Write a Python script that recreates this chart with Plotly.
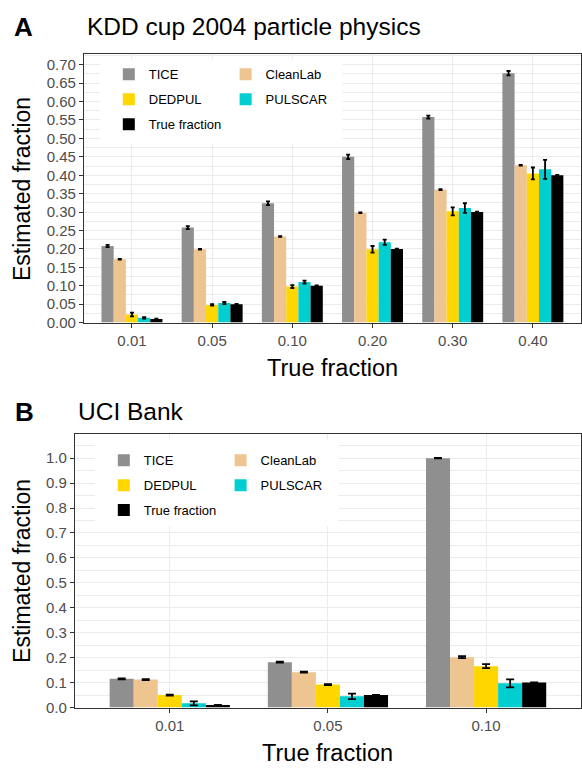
import plotly.graph_objects as go

W, H = 582, 768

# ---- Panel A: KDD cup 2004 particle physics ----
fractions_a = ["0.01", "0.05", "0.10", "0.20", "0.30", "0.40"]
tice_a = [0.208, 0.258, 0.324, 0.450, 0.558, 0.677]
tice_a_err = [0.003, 0.004, 0.005, 0.006, 0.004, 0.006]
cleanlab_a = [0.172, 0.199, 0.234, 0.298, 0.361, 0.427]
cleanlab_a_err = [0.001, 0.001, 0.001, 0.001, 0.001, 0.001]
dedpul_a = [0.022, 0.048, 0.098, 0.199, 0.302, 0.405]
dedpul_a_err = [0.005, 0.002, 0.004, 0.009, 0.011, 0.016]
pulscar_a = [0.013, 0.053, 0.110, 0.218, 0.311, 0.416]
pulscar_a_err = [0.002, 0.003, 0.004, 0.007, 0.013, 0.026]
true_a = [0.01, 0.05, 0.10, 0.20, 0.30, 0.40]
true_a_err = [0.001, 0.001, 0.001, 0.001, 0.001, 0.001]

# ---- Panel B: UCI Bank ----
fractions_b = ["0.01", "0.05", "0.10"]
tice_b = [0.115, 0.182, 1.000]
tice_b_err = [0.002, 0.002, 0.001]
cleanlab_b = [0.112, 0.142, 0.202]
cleanlab_b_err = [0.002, 0.002, 0.004]
dedpul_b = [0.050, 0.092, 0.166]
dedpul_b_err = [0.002, 0.002, 0.008]
pulscar_b = [0.017, 0.045, 0.097]
pulscar_b_err = [0.008, 0.011, 0.016]
true_b = [0.010, 0.050, 0.100]
true_b_err = [0.001, 0.001, 0.001]

methods = ["TICE", "CleanLab", "DEDPUL", "PULSCAR", "True fraction"]
colors = {
    "TICE": "#8F8F8F",
    "CleanLab": "#EEC591",
    "DEDPUL": "#FFD700",
    "PULSCAR": "#00CED1",
    "True fraction": "#000000",
}
# left legend column / right legend column
column = {"TICE": 0, "DEDPUL": 0, "True fraction": 0, "CleanLab": 1, "PULSCAR": 1}

FONT = "Liberation Sans"
GRID = "#EBEBEB"
FRAME = "#333333"
TICKTXT = "#4D4D4D"


def px_x(p):
    return p / W


def px_y(p):
    return 1 - p / H


panels = [
    dict(cats=fractions_a, xa="x", ya="y", legends=("legend", "legend2"), capw=2,
         data={"TICE": (tice_a, tice_a_err), "CleanLab": (cleanlab_a, cleanlab_a_err),
               "DEDPUL": (dedpul_a, dedpul_a_err), "PULSCAR": (pulscar_a, pulscar_a_err),
               "True fraction": (true_a, true_a_err)}),
    dict(cats=fractions_b, xa="x2", ya="y2", legends=("legend3", "legend4"), capw=4,
         data={"TICE": (tice_b, tice_b_err), "CleanLab": (cleanlab_b, cleanlab_b_err),
               "DEDPUL": (dedpul_b, dedpul_b_err), "PULSCAR": (pulscar_b, pulscar_b_err),
               "True fraction": (true_b, true_b_err)}),
]

fig = go.Figure()
for pi, p in enumerate(panels):
    for m in methods:
        vals, errs = p["data"][m]
        fig.add_trace(go.Bar(
            x=p["cats"], y=vals, name=m,
            xaxis=p["xa"], yaxis=p["ya"],
            marker=dict(color=colors[m], line=dict(width=0)),
            error_y=dict(type="data", array=errs, visible=True,
                         color="black", thickness=1.8, width=p["capw"]),
            legend=p["legends"][column[m]],
            legendgroup=f"{pi}-{m}",
        ))

axis_common = dict(
    showline=True, linecolor=FRAME, linewidth=1, mirror=True,
    ticks="outside", ticklen=4, tickcolor=FRAME, tickwidth=1,
    tickfont=dict(family=FONT, size=15, color=TICKTXT),
    showgrid=True, gridcolor=GRID, gridwidth=1.2, zeroline=False,
)

fig.update_layout(
    width=W, height=H,
    margin=dict(l=0, r=0, t=0, b=0),
    paper_bgcolor="white", plot_bgcolor="white",
    barmode="group", bargap=0.24, bargroupgap=0,
    font=dict(family=FONT, color="black"),
    xaxis=dict(domain=[px_x(84), 1], anchor="y", type="category",
               range=[-0.6, len(fractions_a) - 0.4], **axis_common),
    yaxis=dict(domain=[px_y(326), px_y(55)], anchor="x", range=[0, 0.728],
               dtick=0.05, tickformat=".2f",
               minor=dict(dtick=0.025, showgrid=True, gridcolor=GRID, gridwidth=0.8),
               **axis_common),
    xaxis2=dict(domain=[px_x(75), 1], anchor="y2", type="category",
                range=[-0.6, len(fractions_b) - 0.4], **axis_common),
    yaxis2=dict(domain=[px_y(715), px_y(439)], anchor="x2", range=[0, 1.095],
                dtick=0.1, tickformat=".1f",
                minor=dict(dtick=0.05, showgrid=True, gridcolor=GRID, gridwidth=0.8),
                **axis_common),
)

legend_common = dict(
    orientation="v", bgcolor="rgba(0,0,0,0)", borderwidth=0,
    font=dict(family=FONT, size=13, color="black"),
    xanchor="left", yanchor="top", tracegroupgap=5,
    itemclick=False, itemdoubleclick=False,
)
fig.update_layout(
    legend=dict(x=px_x(109), y=px_y(60), **legend_common),
    legend2=dict(x=px_x(226), y=px_y(60), **legend_common),
    legend3=dict(x=px_x(104), y=px_y(450), **legend_common),
    legend4=dict(x=px_x(221), y=px_y(450), **legend_common),
)

# white legend background boxes
for (x0, x1, y0, y1) in [(100, 343, 60, 145), (95, 339, 444, 532)]:
    fig.add_shape(type="rect", xref="paper", yref="paper",
                  x0=px_x(x0), x1=px_x(x1), y0=px_y(y1), y1=px_y(y0),
                  fillcolor="white", line=dict(width=0), layer="above")

annotations = [
    dict(text="<b>A</b>", x=px_x(12), y=px_y(27), size=26, xanchor="left"),
    dict(text="KDD cup 2004 particle physics", x=px_x(85), y=px_y(27), size=24.5, xanchor="left"),
    dict(text="<b>B</b>", x=px_x(13), y=px_y(416), size=26, xanchor="left"),
    dict(text="UCI Bank", x=px_x(76), y=px_y(416), size=24.5, xanchor="left"),
    dict(text="True fraction", x=px_x(333), y=px_y(372), size=23.5, xanchor="center"),
    dict(text="True fraction", x=px_x(328), y=px_y(761), size=23.5, xanchor="center"),
]
for a in annotations:
    fig.add_annotation(text=a["text"], x=a["x"], y=a["y"], xref="paper", yref="paper",
                       xanchor=a["xanchor"], yanchor="middle", showarrow=False,
                       font=dict(family=FONT, size=a["size"], color="black"))
for yc in (191, 577):
    fig.add_annotation(text="Estimated fraction", x=px_x(22), y=px_y(yc), xref="paper",
                       yref="paper", xanchor="center", yanchor="middle", textangle=-90,
                       showarrow=False, font=dict(family=FONT, size=23, color="black"))

fig.write_html("out.html")
